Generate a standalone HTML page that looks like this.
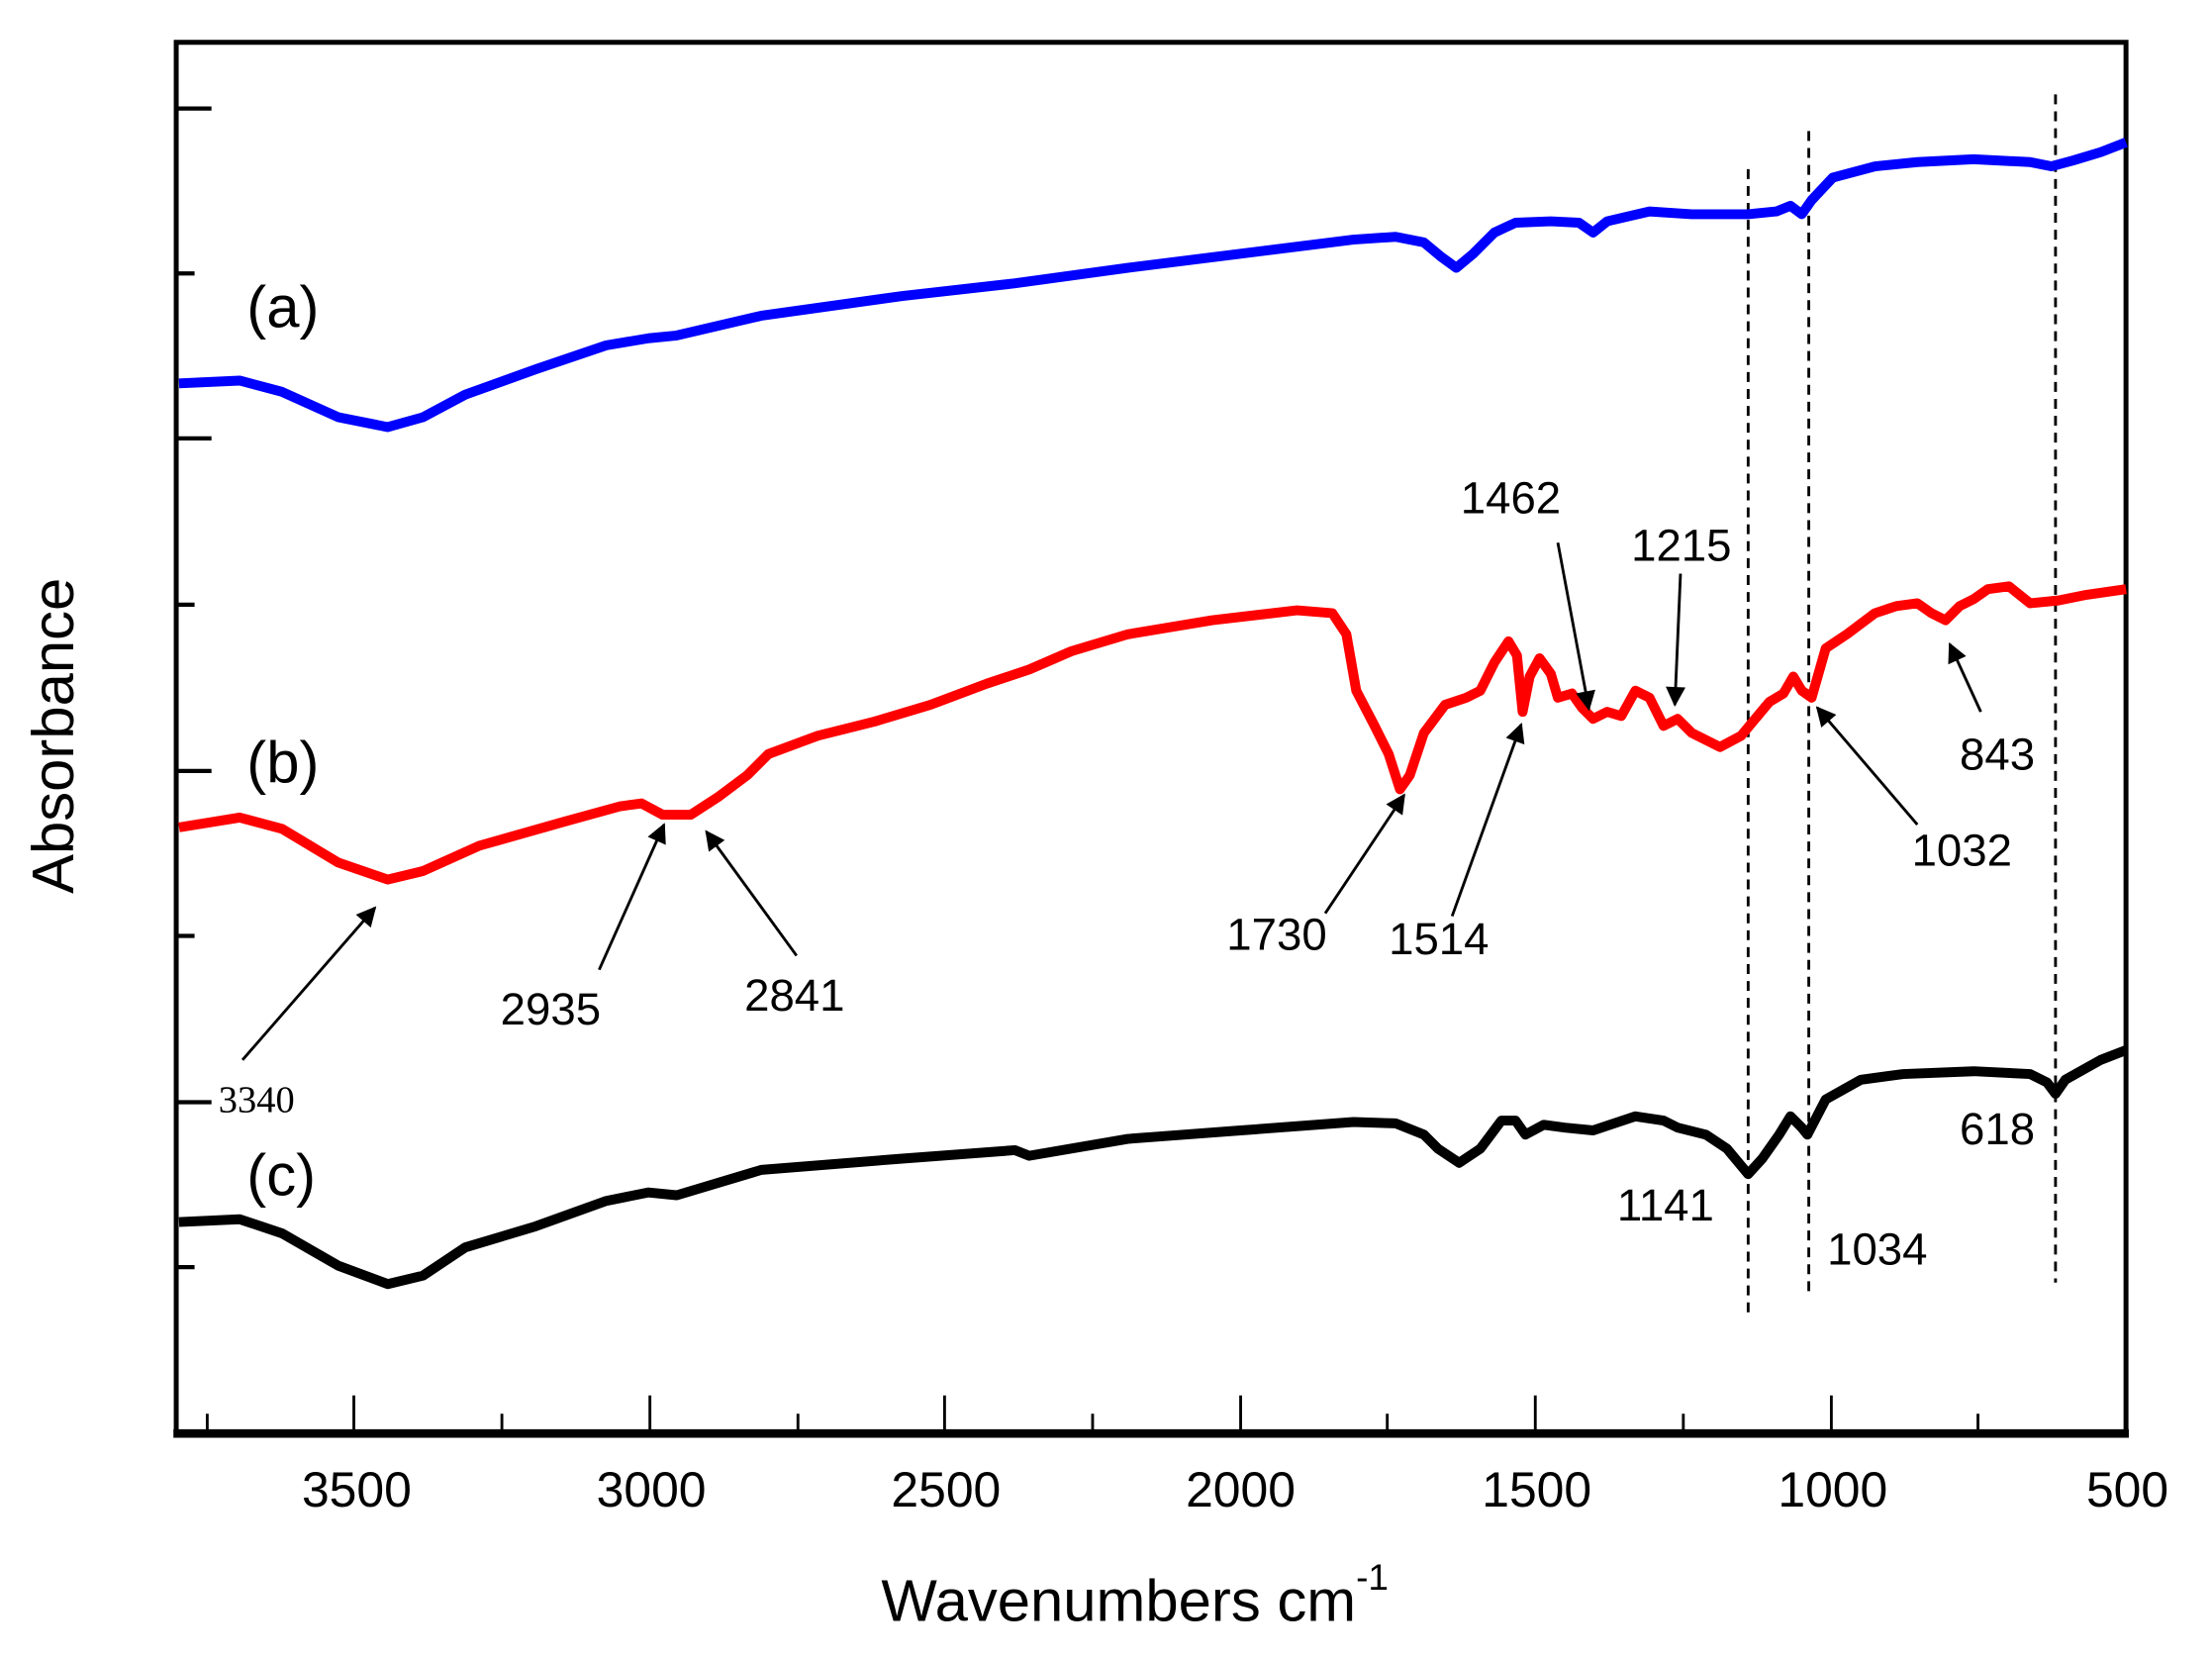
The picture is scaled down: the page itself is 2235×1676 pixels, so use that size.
<!DOCTYPE html>
<html><head><meta charset="utf-8"><style>html,body{margin:0;padding:0;background:#fff}svg{display:block}</style></head>
<body>
<svg width="2235" height="1676" viewBox="0 0 1569 1177" preserveAspectRatio="none" xmlns="http://www.w3.org/2000/svg" font-family="Liberation Sans, Arial, sans-serif">
<defs>
<marker id="ah2" viewBox="0 0 10 10" markerWidth="16" markerHeight="14" refX="9" refY="5" orient="auto" markerUnits="userSpaceOnUse"><path d="M0,0 L10,5 L0,10 z" fill="#000"/></marker></defs>
<rect x="0" y="0" width="1569" height="1177" fill="#fff"/>
<!-- axes -->
<path d="M125,1017 L125,30 L1508,30 L1508,1017" fill="none" stroke="#000" stroke-width="3.5"/>
<line x1="123" y1="1017" x2="1510" y2="1017" stroke="#000" stroke-width="6"/>
<!-- y ticks -->
<g stroke="#000" stroke-width="3">
<line x1="125" y1="77" x2="150" y2="77"/><line x1="125" y1="194" x2="138" y2="194"/>
<line x1="125" y1="311" x2="150" y2="311"/><line x1="125" y1="429" x2="138" y2="429"/>
<line x1="125" y1="547" x2="150" y2="547"/><line x1="125" y1="664" x2="138" y2="664"/>
<line x1="125" y1="782" x2="150" y2="782"/><line x1="125" y1="899" x2="138" y2="899"/>
</g>
<!-- x ticks -->
<g stroke="#000" stroke-width="2">
<line x1="251" y1="1017" x2="251" y2="990"/><line x1="461" y1="1017" x2="461" y2="990"/><line x1="670" y1="1017" x2="670" y2="990"/><line x1="880" y1="1017" x2="880" y2="990"/><line x1="1089" y1="1017" x2="1089" y2="990"/><line x1="1299" y1="1017" x2="1299" y2="990"/>
<line x1="147" y1="1017" x2="147" y2="1003"/><line x1="356" y1="1017" x2="356" y2="1003"/><line x1="566" y1="1017" x2="566" y2="1003"/><line x1="775" y1="1017" x2="775" y2="1003"/><line x1="984" y1="1017" x2="984" y2="1003"/><line x1="1194" y1="1017" x2="1194" y2="1003"/><line x1="1403" y1="1017" x2="1403" y2="1003"/>
</g>
<g font-size="35" text-anchor="middle" fill="#000">
<text x="253" y="1069">3500</text><text x="462" y="1069">3000</text><text x="671" y="1069">2500</text><text x="880" y="1069">2000</text><text x="1090" y="1069">1500</text><text x="1300" y="1069">1000</text><text x="1509" y="1069">500</text>
</g>
<text x="805" y="1150" font-size="42" text-anchor="middle">Wavenumbers cm<tspan font-size="26" dy="-22">-1</tspan></text>
<text transform="translate(52,522) rotate(-90)" font-size="42" text-anchor="middle">Absorbance</text>
<!-- dashed lines -->
<g stroke="#000" stroke-width="2" stroke-dasharray="7,5">
<line x1="1240" y1="120" x2="1240" y2="935"/><line x1="1283" y1="93" x2="1283" y2="920"/><line x1="1458" y1="67" x2="1458" y2="910"/>
</g>
<!-- curves -->
<polyline fill="none" stroke="#0000ff" stroke-width="7" stroke-linejoin="round" points="127,272 170,270 200,278 240,296 275,303 300,296 330,280 380,262 430,245 460,240 480,238 540,224 640,210 720,201 800,190 880,180 960,170 990,168 1010,172 1022,182 1033,190 1045,180 1060,165 1075,158 1100,157 1120,158 1130,165 1140,157 1170,150 1200,152 1240,152 1260,150 1270,146 1278,152 1285,142 1300,126 1330,118 1360,115 1400,113 1440,115 1455,118 1470,114 1490,108 1508,101"/>
<polyline fill="none" stroke="#ff0000" stroke-width="7" stroke-linejoin="round" points="127,587 170,580 200,588 240,612 275,624 300,618 340,600 400,583 440,572 455,570 470,578 490,578 510,565 530,550 545,535 580,522 620,512 660,500 700,485 730,475 760,462 800,450 860,440 920,433 945,435 955,450 962,490 975,515 985,535 993,560 1000,550 1010,520 1025,500 1040,495 1050,490 1060,470 1070,455 1076,465 1080,505 1085,480 1092,467 1100,478 1105,495 1115,492 1122,502 1130,510 1140,505 1150,508 1160,490 1170,495 1180,515 1190,510 1200,520 1220,530 1235,522 1245,510 1255,498 1265,492 1272,480 1278,490 1285,495 1295,460 1310,450 1330,435 1345,430 1360,428 1370,435 1380,440 1390,430 1400,425 1410,418 1425,416 1440,428 1460,426 1480,422 1508,418"/>
<polyline fill="none" stroke="#000" stroke-width="7" stroke-linejoin="round" points="127,867 170,865 200,875 240,898 275,911 300,905 330,885 380,870 430,852 460,846 480,848 540,830 640,822 720,816 730,820 800,808 880,802 960,796 990,797 1010,805 1020,815 1035,825 1050,815 1065,795 1075,795 1082,805 1095,798 1110,800 1130,802 1160,792 1180,795 1190,800 1210,805 1225,815 1240,833 1250,822 1262,805 1270,792 1278,800 1282,805 1295,780 1320,766 1350,762 1400,760 1440,762 1452,768 1458,776 1465,766 1490,752 1508,745"/>
<!-- series labels -->
<g font-size="42" fill="#000">
<text x="175" y="232">(a)</text><text x="175" y="555">(b)</text><text x="175" y="848">(c)</text>
</g>
<!-- arrows -->
<g stroke="#000" stroke-width="2" marker-end="url(#ah2)">
<line x1="172" y1="752" x2="266" y2="644"/>
<line x1="425" y1="688" x2="471" y2="585"/>
<line x1="565" y1="678" x2="501" y2="590"/>
<line x1="940" y1="648" x2="996" y2="564"/>
<line x1="1030" y1="650" x2="1079" y2="514"/>
<line x1="1105" y1="385" x2="1127" y2="503"/>
<line x1="1192" y1="407" x2="1188" y2="500"/>
<line x1="1360" y1="585" x2="1289" y2="502"/>
<line x1="1405" y1="505" x2="1383" y2="457"/>
</g>
<g font-size="32" fill="#000">
<text x="1036" y="364">1462</text><text x="1157" y="398">1215</text>
<text x="355" y="727">2935</text><text x="528" y="717">2841</text>
<text x="870" y="674">1730</text><text x="985" y="677">1514</text>
<text x="1356" y="614">1032</text><text x="1390" y="546">843</text>
<text x="1147" y="866">1141</text><text x="1296" y="897">1034</text><text x="1390" y="812">618</text>
</g>
<text x="155" y="789" font-size="27" font-family="Liberation Serif, serif">3340</text>
</svg>
</body></html>
